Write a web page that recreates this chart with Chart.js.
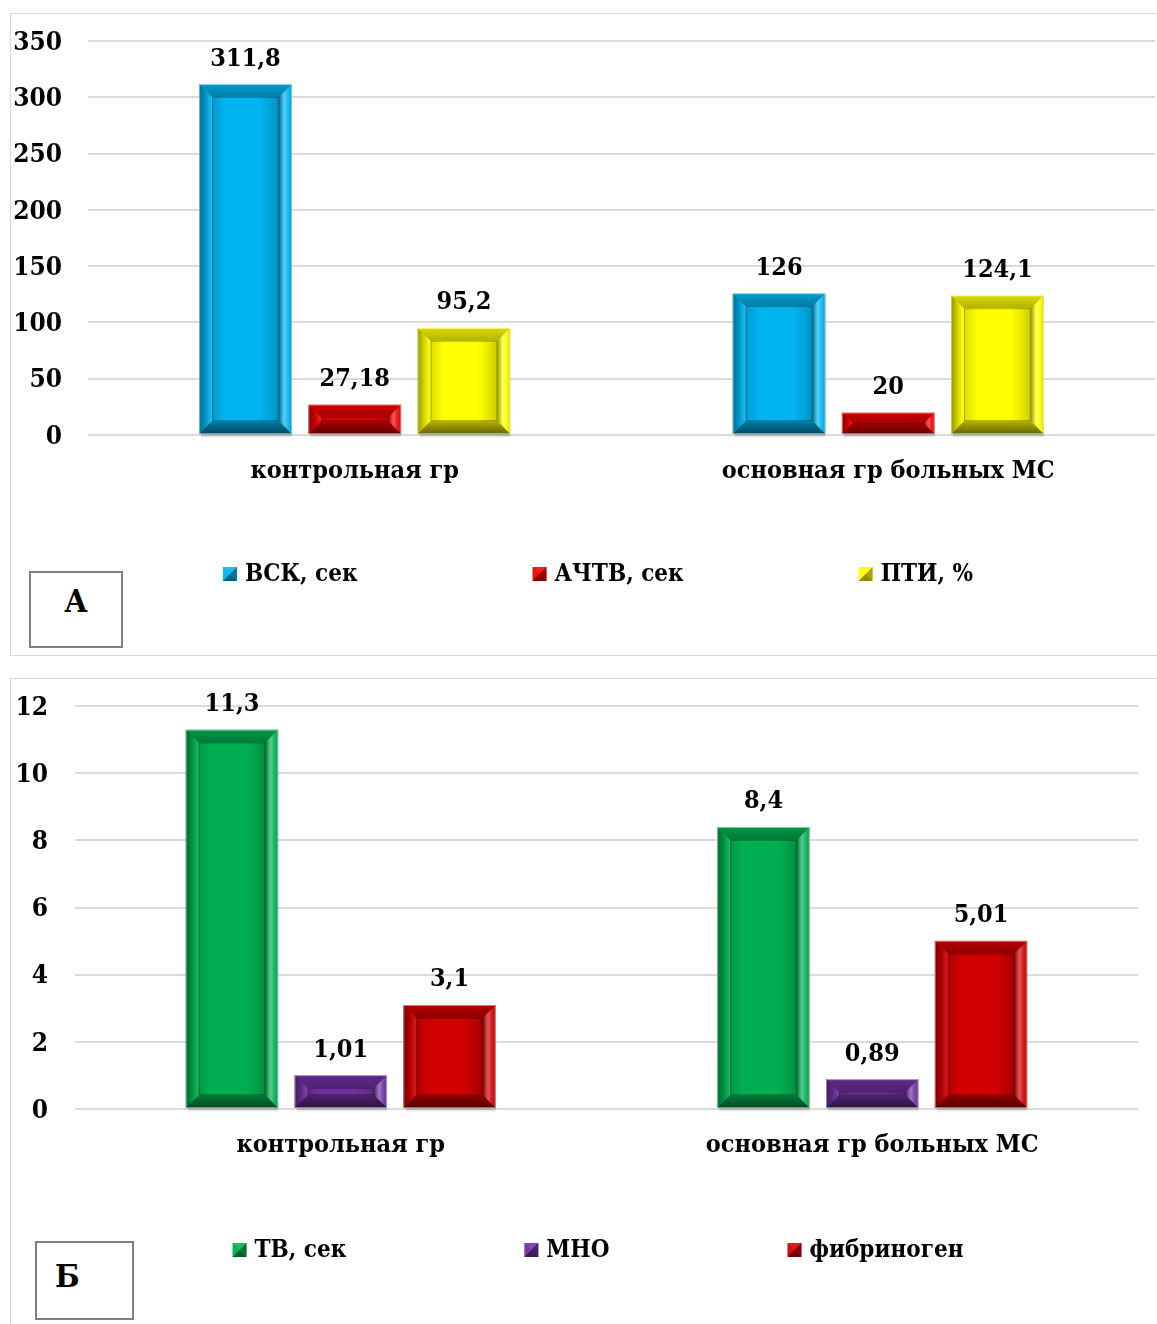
<!DOCTYPE html>
<html>
<head>
<meta charset="utf-8">
<script src="https://cdn.jsdelivr.net/npm/chart.js@4.4.1/dist/chart.umd.min.js"></script>
<style>
  html, body { margin: 0; padding: 0; background: #fff; overflow: hidden; width: 1157px; height: 1324px; }
  .panel { position: absolute; left: 10px; border: 1px solid #d9d9d9; border-right: none; background: #fff; }
  #panelA { top: 13px; width: 1147px; height: 641px; }
  #panelB { top: 678px; width: 1147px; height: 660px; border-bottom: none; }
  canvas { position: absolute; left: 0; top: 0; }
  .tag { position: absolute; z-index: 2; box-sizing: border-box; border: 2px solid #7f7f7f; background: #fff;
         font: bold 32px 'DejaVu Serif Condensed', 'DejaVu Serif', serif; line-height: 34px; }
  #tagA { left: 18px; top: 557px; width: 94px; height: 77px; padding-top: 11px; text-align: center; }
  #tagB { left: 24px; top: 562px; width: 99px; height: 79px; padding-top: 16px; padding-left: 18px; text-align: left; }
</style>
</head>
<body>
<div class="panel" id="panelA">
  <canvas id="chartA" width="1146" height="641"></canvas>
  <div class="tag" id="tagA">А</div>
</div>
<div class="panel" id="panelB">
  <canvas id="chartB" width="1146" height="660"></canvas>
  <div class="tag" id="tagB">Б</div>
</div>
<script>
// ---- data ----
const groups = ['контрольная гр', 'основная гр больных МС'];

// panel А: coagulation times and prothrombin index
const seriesNamesA = ['ВСК, сек', 'АЧТВ, сек', 'ПТИ, %'];
const vsk = [311.8, 126];
const achtv = [27.18, 20];
const pti = [95.2, 124.1];
const yMaxA = 350, yStepA = 50;

// panel Б: thrombin time, INR, fibrinogen
const seriesNamesB = ['ТВ, сек', 'МНО', 'фибриноген'];
const tv = [11.3, 8.4];
const mno = [1.01, 0.89];
const fibrinogen = [3.1, 5.01];
const yMaxB = 12, yStepB = 2;

// ---- styling ----
const FONT = "'DejaVu Serif Condensed', 'DejaVu Serif', serif";
const FONT_SIZE = 25;
const LEGEND_FONT_SIZE = 24;
Chart.defaults.font.family = FONT;
Chart.defaults.font.size = FONT_SIZE;
Chart.defaults.font.weight = 'bold';
Chart.defaults.color = '#000';

function fmt(v) { return String(v).replace('.', ','); }

function polygon(ctx, pts, fill) {
  ctx.beginPath();
  ctx.moveTo(pts[0][0], pts[0][1]);
  for (let i = 1; i < pts.length; i++) ctx.lineTo(pts[i][0], pts[i][1]);
  ctx.closePath();
  ctx.fillStyle = fill;
  ctx.fill();
}

function grad(ctx, x0, y0, x1, y1, stops) {
  const g = ctx.createLinearGradient(x0, y0, x1, y1);
  stops.forEach(s => g.addColorStop(s[0], s[1]));
  return g;
}

// chiselled frame drawn over every bar
const bevelPlugin = {
  id: 'bevel',
  afterDatasetsDraw(chart) {
    const ctx = chart.ctx;
    ctx.save();
    chart.data.datasets.forEach((ds, di) => {
      const meta = chart.getDatasetMeta(di);
      if (meta.hidden) return;
      meta.data.forEach(bar => {
        const p = bar.getProps(['x', 'y', 'base', 'width'], true);
        const L = p.x - p.width / 2, R = p.x + p.width / 2;
        const T = Math.min(p.y, p.base), B = Math.max(p.y, p.base);
        const b = Math.min(13, (B - T) / 2, p.width / 2);
        // soft shadow under the bar
        ctx.fillStyle = grad(ctx, 0, B, 0, B + 4, [[0, 'rgba(0,0,0,0.25)'], [1, 'rgba(0,0,0,0)']]);
        ctx.fillRect(L + 2, B, p.width - 2, 4);
        // face shading between the side bevels
        if (B - T > 2 * b) {
          const fw = p.width - 2 * b;
          ctx.fillStyle = grad(ctx, L + b, 0, R - b, 0, [
            [0, 'rgba(0,0,0,0.14)'], [0.14, 'rgba(0,0,0,0.04)'], [0.2, 'rgba(0,0,0,0)'],
            [0.7, 'rgba(0,0,0,0)'], [0.85, 'rgba(0,0,0,0.08)'], [1, 'rgba(0,0,0,0.2)']]);
          ctx.fillRect(L + b, T + b, fw, B - T - 2 * b);
        }
        // top
        polygon(ctx, [[L, T], [R, T], [R - b, T + b], [L + b, T + b]],
          grad(ctx, 0, T, 0, T + b, [[0, 'rgba(255,255,255,0.2)'], [0.12, 'rgba(0,0,0,0.16)'], [1, 'rgba(0,0,0,0.3)']]));
        // left
        polygon(ctx, [[L, T], [L + b, T + b], [L + b, B - b], [L, B]],
          grad(ctx, L, 0, L + b, 0, [[0, 'rgba(0,0,0,0.42)'], [0.55, 'rgba(0,0,0,0.15)'], [1, 'rgba(255,255,255,0.1)']]));
        // right
        polygon(ctx, [[R, T], [R, B], [R - b, B - b], [R - b, T + b]],
          grad(ctx, R - b, 0, R, 0, [[0, 'rgba(0,0,0,0.4)'], [0.4, 'rgba(255,255,255,0.35)'], [0.7, 'rgba(255,255,255,0.1)'], [1, 'rgba(0,0,0,0.2)']]));
        // bottom
        polygon(ctx, [[L, B], [R, B], [R - b, B - b], [L + b, B - b]],
          grad(ctx, 0, B - b, 0, B, [[0, 'rgba(0,0,0,0.3)'], [1, 'rgba(0,0,0,0.6)']]));
        // inner edge and outer rim
        ctx.lineWidth = 1;
        ctx.strokeStyle = 'rgba(0,0,0,0.25)';
        ctx.strokeRect(L + b + 0.5, T + b + 0.5, Math.max(0, p.width - 2 * b - 1), Math.max(0, B - T - 2 * b - 1));
        ctx.strokeStyle = 'rgba(255,255,255,0.45)';
        ctx.strokeRect(L + 0.5, T + 0.5, p.width - 1, B - T - 1);
      });
    });
    ctx.restore();
  }
};

// value written above each bar
const valueLabelPlugin = {
  id: 'valueLabels',
  afterDatasetsDraw(chart) {
    const ctx = chart.ctx;
    ctx.save();
    ctx.font = `bold ${FONT_SIZE}px ${FONT}`;
    ctx.fillStyle = '#000';
    ctx.textAlign = 'center';
    ctx.textBaseline = 'middle';
    chart.data.datasets.forEach((ds, di) => {
      chart.getDatasetMeta(di).data.forEach((bar, i) => {
        ctx.fillText(fmt(ds.data[i]), bar.x, bar.y - 25);
      });
    });
    ctx.restore();
  }
};

function drawMarker(ctx, x, y, s, color) {
  const cx = x + s / 2, cy = y + s / 2;
  ctx.fillStyle = color;
  ctx.fillRect(x, y, s, s);
  polygon(ctx, [[x, y], [x + s, y], [cx, cy]], 'rgba(255,255,255,0.12)');
  polygon(ctx, [[x, y], [cx, cy], [x, y + s]], 'rgba(255,255,255,0.05)');
  polygon(ctx, [[x + s, y], [x + s, y + s], [cx, cy]], 'rgba(0,0,0,0.35)');
  polygon(ctx, [[x, y + s], [x + s, y + s], [cx, cy]], 'rgba(0,0,0,0.45)');
}

// single-row legend under the category labels
const legendPlugin = {
  id: 'rowLegend',
  afterDraw(chart, args, opts) {
    const ctx = chart.ctx;
    ctx.save();
    ctx.font = `bold ${LEGEND_FONT_SIZE}px ${FONT}`;
    ctx.textBaseline = 'middle';
    ctx.textAlign = 'left';
    const box = 14, gap = 8;
    const items = chart.data.datasets.map(ds => ({
      text: ds.label, color: ds.backgroundColor,
      w: box + gap + ctx.measureText(ds.label).width
    }));
    const total = items.reduce((s, it) => s + it.w, 0) + opts.spacing * (items.length - 1);
    let x = opts.centerX - total / 2;
    const y = chart.chartArea.bottom + opts.offsetY;
    items.forEach(it => {
      drawMarker(ctx, x, y - box / 2, box, it.color);
      ctx.fillStyle = '#000';
      ctx.fillText(it.text, x + box + gap, y + 1);
      x += it.w + opts.spacing;
    });
    ctx.restore();
  }
};

function makeChart(id, names, series, colors, yMax, yStep, geo) {
  return new Chart(document.getElementById(id), {
    type: 'bar',
    data: {
      labels: groups,
      datasets: names.map((n, i) => ({
        label: n, data: series[i], backgroundColor: colors[i],
        borderWidth: 0, categoryPercentage: 0.614, barPercentage: 0.85
      }))
    },
    options: {
      responsive: false,
      animation: false,
      devicePixelRatio: 1,
      layout: { padding: { top: 27, right: geo.padRight, bottom: 0, left: 0 } },
      plugins: {
        legend: { display: false },
        tooltip: { enabled: false },
        rowLegend: { centerX: geo.legendCenter, offsetY: geo.legendOffset, spacing: geo.legendSpacing }
      },
      scales: {
        x: {
          grid: { display: false },
          border: { display: false },
          ticks: { padding: 13, maxRotation: 0 },
          afterFit: s => { s.height = geo.xHeight; }
        },
        y: {
          min: 0, max: yMax,
          grid: { color: '#dadada', lineWidth: 2, drawTicks: false },
          border: { display: false },
          ticks: { stepSize: yStep, padding: geo.tickPad, labelOffset: 2, font: { size: 26 } },
          afterFit: s => { s.width = geo.yWidth; s.paddingTop = 0; s.paddingBottom = 0; }
        }
      }
    },
    plugins: [bevelPlugin, valueLabelPlugin, legendPlugin]
  });
}

makeChart('chartA', seriesNamesA, [vsk, achtv, pti], ['#00B4F0', '#F00000', '#FFFF00'],
  yMaxA, yStepA,
  { padRight: 2, xHeight: 220, yWidth: 77, tickPad: 26, legendCenter: 587, legendOffset: 139, legendSpacing: 175 });

makeChart('chartB', seriesNamesB, [tv, mno, fibrinogen], ['#00B050', '#7030A0', '#D00000'],
  yMaxB, yStepB,
  { padRight: 19, xHeight: 230, yWidth: 64, tickPad: 27, legendCenter: 587, legendOffset: 141, legendSpacing: 178 });
</script>
</body>
</html>
